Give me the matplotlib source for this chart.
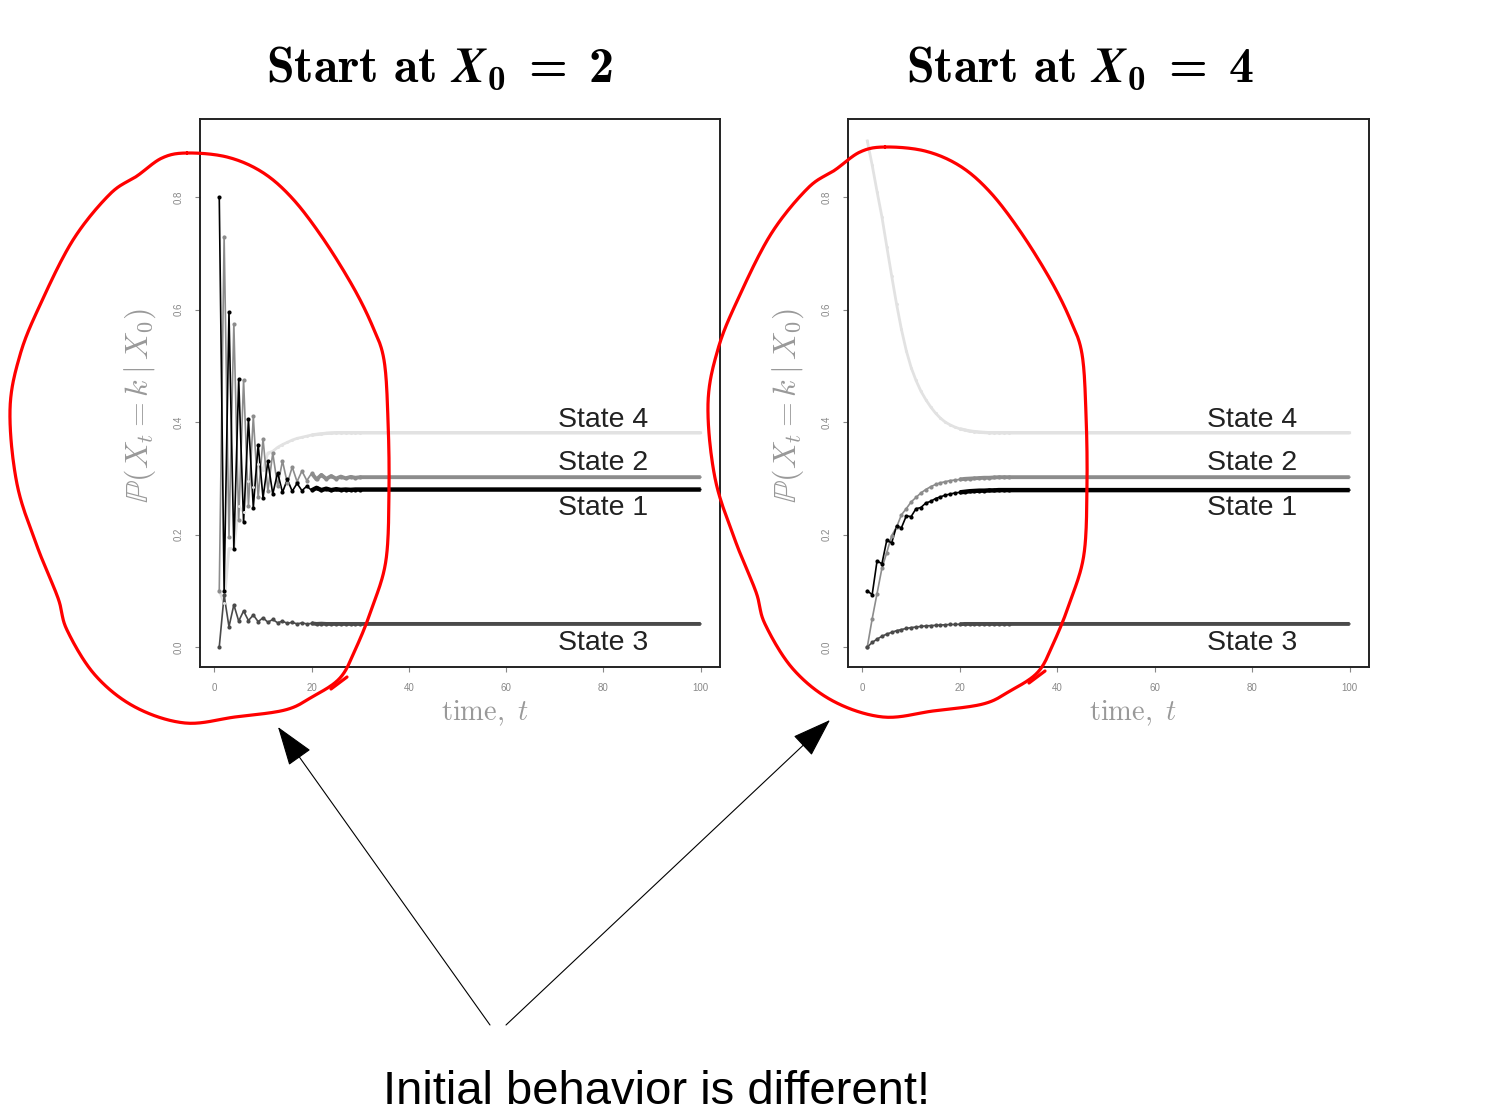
import numpy as np
import matplotlib
matplotlib.use("Agg")
import matplotlib.pyplot as plt

plt.rcParams["mathtext.fontset"] = "cm"
plt.rcParams["font.family"] = ["Liberation Sans", "DejaVu Sans"]
# fuentes para el titulo (fontset custom, solo en los titulos)
plt.rcParams["mathtext.bf"] = "cmb10"
plt.rcParams["mathtext.rm"] = "cmr10"
plt.rcParams["mathtext.it"] = "cmmi10"
try:
    plt.rcParams["mathtext.bfit"] = "STIXGeneral:italic:bold"
except KeyError:
    pass

W, H = 1494, 1115

# time steps (dense early part, then a few tail points)
t = list(range(1, 31)) + [40, 60, 80, 100]

# ---- Start at X0 = 2 ----
s1_a = [0.800, 0.100, 0.595, 0.175, 0.476, 0.222, 0.405, 0.248, 0.360, 0.265,
        0.330, 0.272, 0.310, 0.275, 0.298, 0.277, 0.291, 0.278, 0.286, 0.2785,
        0.283, 0.279, 0.2815, 0.279, 0.2805, 0.2795, 0.280, 0.2795, 0.280, 0.280,
        0.280, 0.280, 0.280, 0.280]
s2_a = [0.100, 0.730, 0.195, 0.575, 0.225, 0.475, 0.250, 0.410, 0.266, 0.370,
        0.278, 0.345, 0.286, 0.331, 0.291, 0.320, 0.294, 0.313, 0.296, 0.309,
        0.298, 0.306, 0.299, 0.304, 0.2995, 0.303, 0.300, 0.3025, 0.301, 0.302,
        0.302, 0.302, 0.302, 0.302]
s3_a = [0.000, 0.092, 0.036, 0.075, 0.046, 0.064, 0.047, 0.057, 0.045, 0.052,
        0.044, 0.049, 0.043, 0.046, 0.042, 0.044, 0.041, 0.043, 0.041, 0.042,
        0.041, 0.0415, 0.041, 0.041, 0.041, 0.041, 0.041, 0.041, 0.041, 0.041,
        0.041, 0.041, 0.041, 0.041]
s4_a = [0.100, 0.078, 0.175, 0.175, 0.250, 0.240, 0.295, 0.285, 0.325, 0.315,
        0.345, 0.348, 0.355, 0.360, 0.364, 0.368, 0.371, 0.373, 0.375, 0.377,
        0.378, 0.379, 0.380, 0.3805, 0.381, 0.381, 0.381, 0.381, 0.381, 0.381,
        0.381, 0.381, 0.381, 0.381]

# ---- Start at X0 = 4 ----
s1_b = [0.100, 0.093, 0.153, 0.148, 0.190, 0.185, 0.215, 0.212, 0.233, 0.232,
        0.246, 0.248, 0.256, 0.259, 0.264, 0.267, 0.270, 0.272, 0.274, 0.275,
        0.276, 0.277, 0.2775, 0.278, 0.278, 0.2785, 0.2785, 0.279, 0.279, 0.279,
        0.279, 0.279, 0.279, 0.279]
s2_b = [0.000, 0.050, 0.095, 0.140, 0.168, 0.198, 0.213, 0.235, 0.246, 0.258,
        0.266, 0.274, 0.280, 0.285, 0.289, 0.292, 0.294, 0.296, 0.297, 0.298,
        0.299, 0.2995, 0.300, 0.3005, 0.301, 0.301, 0.3015, 0.302, 0.302, 0.302,
        0.302, 0.302, 0.302, 0.302]
s3_b = [0.000, 0.008, 0.014, 0.019, 0.023, 0.026, 0.029, 0.031, 0.033, 0.0345,
        0.0355, 0.0365, 0.0375, 0.038, 0.0385, 0.039, 0.0395, 0.040, 0.040, 0.0405,
        0.041, 0.041, 0.041, 0.041, 0.041, 0.041, 0.041, 0.041, 0.041, 0.041,
        0.041, 0.041, 0.041, 0.041]
s4_b = [0.900, 0.857, 0.810, 0.765, 0.712, 0.660, 0.610, 0.565, 0.527, 0.497,
        0.474, 0.455, 0.440, 0.427, 0.416, 0.407, 0.400, 0.395, 0.391, 0.388,
        0.386, 0.384, 0.383, 0.382, 0.3815, 0.381, 0.381, 0.381, 0.381, 0.381,
        0.381, 0.381, 0.381, 0.381]

states = ["State 1", "State 2", "State 3", "State 4"]
label_y = {"State 4": 0.391, "State 2": 0.314, "State 1": 0.234, "State 3": -0.006}
colores = {"State 1": "#000000", "State 2": "#8c8c8c", "State 3": "#4a4a4a", "State 4": "#e2e2e2"}
grosor = {"State 1": 3.2, "State 2": 2.8, "State 3": 2.8, "State 4": 2.4}
marca = {"State 1": 3.0, "State 2": 3.0, "State 3": 3.0, "State 4": 2.2}

paneles = [
    ("2", [200, 119, 720, 667], 440, {"State 1": s1_a, "State 2": s2_a, "State 3": s3_a, "State 4": s4_a}),
    ("4", [848, 119, 1369, 667], 1080, {"State 1": s1_b, "State 2": s2_b, "State 3": s3_b, "State 4": s4_b}),
]

fig = plt.figure(figsize=(W / 100, H / 100), dpi=100)

n_dense = 30
for x0_val, (x0, y0, x1, y1), xt, series in paneles:
    ax = fig.add_axes([x0 / W, 1 - y1 / H, (x1 - x0) / W, (y1 - y0) / H])
    for nombre in ["State 4", "State 2", "State 3", "State 1"]:
        v = series[nombre]
        c = colores[nombre]
        ax.plot(t, v, color=c, lw=1.2 if nombre != "State 4" else 2.0, zorder=2)
        ax.plot(t[:n_dense], v[:n_dense], "o", color=c, ms=marca[nombre], mew=0, zorder=3)
        ax.plot(t[19:], v[19:], color=c, lw=grosor[nombre], solid_capstyle="butt", zorder=3)
    for nombre in states:
        ax.text(80, label_y[nombre], nombre, ha="center", va="baseline",
                fontsize=20.5, color="#222222")
    ax.set_xlim(-2.96, 103.96)
    ax.set_ylim(-0.0356, 0.939)
    ax.set_xticks([0, 20, 40, 60, 80, 100])
    ax.set_yticks([0.0, 0.2, 0.4, 0.6, 0.8])
    ax.set_yticklabels(["0.0", "0.2", "0.4", "0.6", "0.8"], rotation=90, va="center")
    ax.tick_params(axis="both", labelsize=7, labelcolor="#888888", color="#888888",
                   length=3.5, width=0.8)
    ax.tick_params(axis="x", pad=8)
    ax.tick_params(axis="y", pad=8)
    for sp in ax.spines.values():
        sp.set_linewidth(1.4)
        sp.set_color("#222222")

# overlay in pixel coordinates (origin top-left) for titles, labels and annotations
ov = fig.add_axes([0, 0, 1, 1], facecolor="none")
ov.set_xlim(0, W)
ov.set_ylim(H, 0)
ov.axis("off")

for x0_val, _, xt, _ in paneles:
    ov.text(xt, 68, r"$\mathbf{Start\ at}\ \mathbfit{X}_{\mathbf{0}}\;\mathbf{=}\;\mathbf{" + x0_val + "}$",
            ha="center", va="center", fontsize=36, math_fontfamily="custom")

for xc in [485, 1133]:
    ov.text(xc, 713, r"$\mathrm{time,}\ t$", ha="center", va="center", fontsize=20.5, color="#999999")
for xc in [140, 788]:
    ov.text(xc, 406, r"$\mathbb{P}(X_t = k \mid X_0)$", ha="center", va="center",
            rotation=90, fontsize=23, color="#999999")


def curva_cerrada(pts, n=20):
    P = np.array(pts, float)
    m = len(P)
    out = []
    for i in range(m):
        p0, p1, p2, p3 = P[i - 1], P[i], P[(i + 1) % m], P[(i + 2) % m]
        for s in np.linspace(0, 1, n, endpoint=False):
            out.append(0.5 * (2 * p1 + (-p0 + p2) * s + (2 * p0 - 5 * p1 + 4 * p2 - p3) * s ** 2
                              + (-p0 + 3 * p1 - 3 * p2 + p3) * s ** 3))
    out.append(out[0])
    return np.array(out)


# hand-drawn red loop (left one), the right one is the same stroke shifted
lazo = [(187, 153), (227, 157), (262, 172), (292, 198), (322, 237), (352, 285), (372, 325),
        (384, 360), (388, 420), (389, 490), (386, 560), (372, 608), (356, 648), (340, 678),
        (312, 697), (285, 710), (235, 717), (185, 723), (135, 707), (95, 675), (67, 630),
        (58, 598), (37, 546), (17, 484), (10, 410), (20, 355), (40, 305), (73, 240),
        (110, 194), (137, 176), (162, 158)]
gancho = [(331, 689), (347, 677)]

for dx, dy in [(0, 0), (698, -6)]:
    c = curva_cerrada([(x + dx, y + dy) for x, y in lazo])
    ov.plot(c[:, 0], c[:, 1], color="#ff0000", lw=2.3, solid_capstyle="round")
    g = np.array([(x + dx, y + dy) for x, y in gancho])
    ov.plot(g[:, 0], g[:, 1], color="#ff0000", lw=2.3, solid_capstyle="round")

flecha = dict(arrowstyle="-|>,head_length=0.7,head_width=0.24", lw=0.8, color="black",
              mutation_scale=36, shrinkA=0, shrinkB=0)
ov.annotate("", xy=(278, 727), xytext=(490, 1025), arrowprops=flecha)
ov.annotate("", xy=(830, 720), xytext=(506, 1025), arrowprops=flecha)

ov.text(383, 1104, "Initial behavior is different!", ha="left", va="baseline", fontsize=34)

fig.savefig("out.png", dpi=100)
